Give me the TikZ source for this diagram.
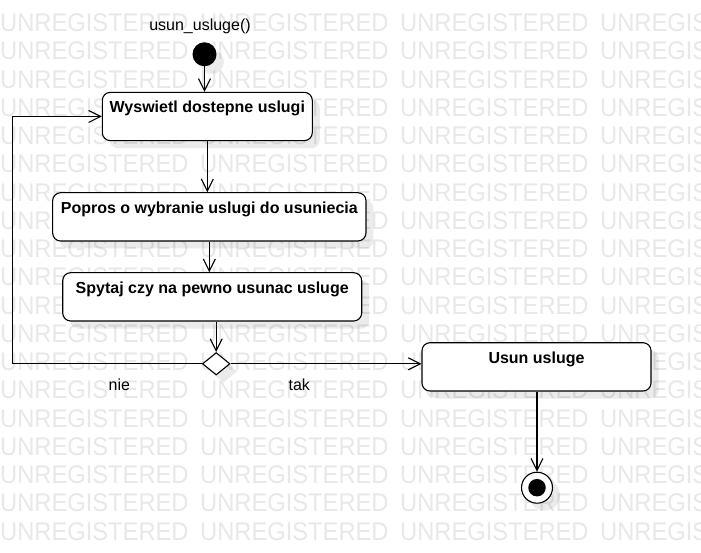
\documentclass[tikz,border=0pt]{standalone}
\usepackage{fontspec}
\setmainfont{Liberation Sans}
\usetikzlibrary{arrows.meta,shapes.geometric,shadows}
\begin{document}
\begin{tikzpicture}[x=1pt,y=1pt,
  wm/.style={anchor=base west, inner sep=0, text=black!9, font=\fontsize{25.5}{25.5}\selectfont},
  shad/.style={drop shadow={shadow xshift=7.5pt, shadow yshift=-7.5pt, fill=black, opacity=0.08}},
  act/.style={draw, line width=1.1pt, rounded corners=8pt, fill=white, shad, inner xsep=0pt, inner ysep=0pt, text height=20.5pt, text depth=27.8pt, font=\fontsize{16}{19}\selectfont\bfseries},
  arr/.style={draw, line width=1.1pt, -{Straight Barb[length=12pt,width=12pt]}},
  lbl/.style={anchor=base, inner sep=0pt, font=\fontsize{16}{19}\selectfont}
]
\useasboundingbox (0,0) rectangle (701,-553);
\fill[white] (0,0) rectangle (701,-553);
\begin{scope}
\clip (0,0) rectangle (701,-553);
\foreach \r in {0,...,18} {
  \foreach \c in {0,...,3} {
    \node[wm] (wm-\r-\c) at (200*\c, -31.7-28.24*\r) {\scalebox{0.93}[1]{UNREGISTERED}};
  }
}
\end{scope}

% labels
\node[lbl] (title) at (200,-30.7) {usun\_usluge()};
\node[lbl] (nie) at (119.3,-390.5) {nie};
\node[lbl] (tak) at (299.3,-390.5) {tak};

% nodes
\node[circle, fill=black, minimum size=24pt, inner sep=0pt, shad] (init) at (204.5,-54.3) {};
\node[act, minimum width=210pt] (b1) at (207.3,-116.5) {Wyswietl dostepne uslugi};
\node[act, minimum width=313.3pt] (b2) at (209.3,-216.85) {Popros o wybranie uslugi do usuniecia};
\node[act, minimum width=299pt] (b3) at (212.2,-296.85) {Spytaj czy na pewno usunac usluge};
\node[diamond, draw, line width=1.1pt, fill=white, shad, minimum width=27.6pt, minimum height=22.4pt, inner sep=0pt] (d) at (216.2,-363.8) {};
\node[act, minimum width=229pt] (b4) at (536.5,-366.85) {Usun usluge};
\node[circle, draw, line width=1.1pt, fill=white, minimum size=31pt, inner sep=0pt, shad] (fin) at (537,-487.7) {};
\node[circle, fill=black, minimum size=17.5pt, inner sep=0pt] (finc) at (fin) {};

% connectors
\draw[arr] (init.south) -- (init.south |- b1.north);
\draw[arr] (b1.south) -- (b1.south |- b2.north);
\draw[arr] (b2.south) -- (b2.south |- b3.north);
\draw[arr] (d |- b3.south) -- (d.north);
\coordinate (lc) at (12.7,-116.5);
\draw[arr] (d.west) -| (lc) -- (b1.west);
\draw[arr] (d.east) -- (d.east -| b4.west);
\draw[arr] (b4.south -| fin) -- (fin.north);
\end{tikzpicture}
\end{document}
